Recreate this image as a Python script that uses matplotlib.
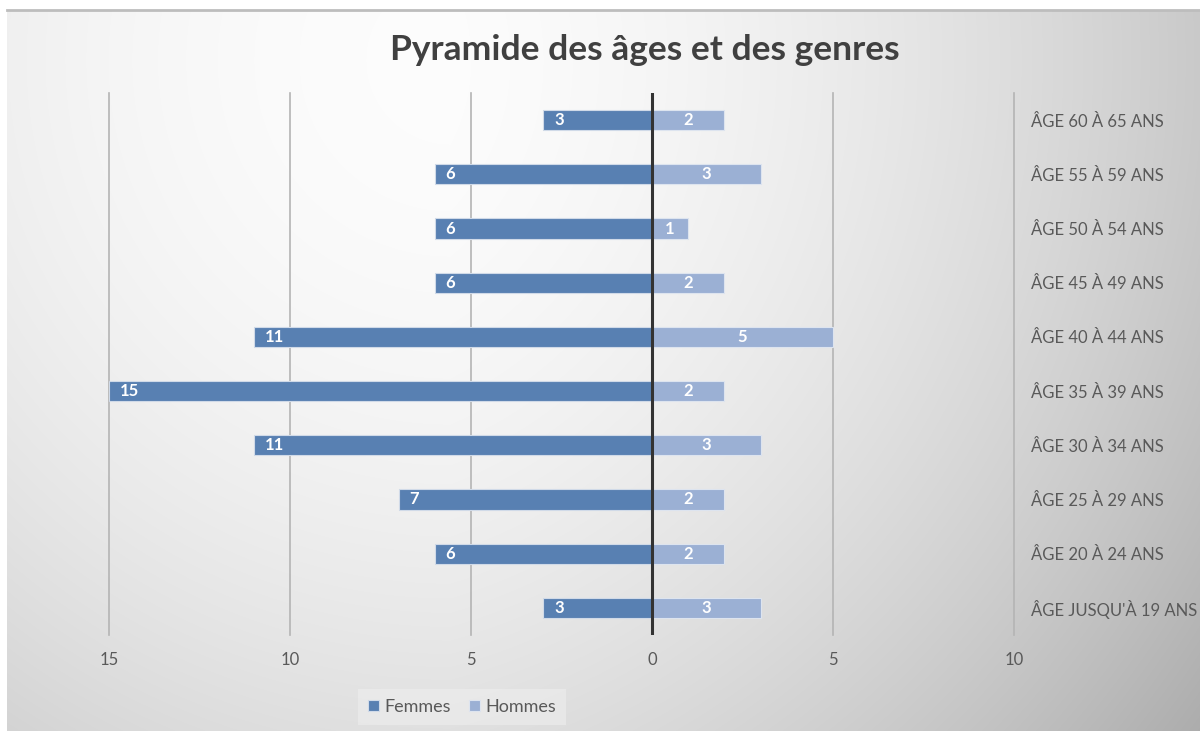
import numpy as np
import matplotlib
matplotlib.use('Agg')
import matplotlib.pyplot as plt

# Age groups, bottom to top
age_groups = ["ÂGE JUSQU'À 19 ANS", "ÂGE 20 À 24 ANS", "ÂGE 25 À 29 ANS", "ÂGE 30 À 34 ANS",
              "ÂGE 35 À 39 ANS", "ÂGE 40 À 44 ANS", "ÂGE 45 À 49 ANS", "ÂGE 50 À 54 ANS",
              "ÂGE 55 À 59 ANS", "ÂGE 60 À 65 ANS"]
femmes = [3, 6, 7, 11, 15, 11, 6, 6, 6, 3]
hommes = [3, 2, 2, 3, 2, 5, 2, 1, 3, 2]
x_ticks = [-15, -10, -5, 0, 5, 10]

plt.rcParams['font.family'] = ['Lato', 'DejaVu Sans']

fig = plt.figure(figsize=(12, 7.31), dpi=100)
fig.patch.set_facecolor('white')

# Gradient background (chart area of the screenshot)
bg = fig.add_axes([7 / 1200, 0, 1 - 7 / 1200, (731 - 11) / 731], zorder=-10)
W, H = 1193, 720
xx, yy = np.meshgrid(np.arange(W) + 7, np.arange(H) + 11)
r2 = (xx - 450.0) ** 2 + (yy - 60.0) ** 2
v = 0.99 - 2.5e-7 * r2 - 0.06 * np.clip((xx - 450) / 750, 0, None)
v = np.clip(v, 0, 1)
bg.imshow(np.dstack([v, v, v]), aspect='auto', extent=[0, 1, 1, 0], interpolation='bilinear')
bg.set_xlim(0, 1)
bg.set_ylim(1, 0)
bg.axis('off')
fig.add_artist(plt.Line2D([7 / 1200, 1], [1 - 10 / 731] * 2, color='#bdbdbd', lw=2))

ax = fig.add_axes([109 / 1200, 96 / 731, (1014 - 109) / 1200, (635 - 93) / 731])
ax.set_facecolor('none')

y = np.arange(len(age_groups))
c_f = '#5880B2'
c_h = '#9BB0D4'
bh = 0.37
ax.barh(y, [-f for f in femmes], height=bh, color=c_f, edgecolor='#d0dae8', linewidth=0.8,
        label='Femmes', zorder=3)
ax.barh(y, hommes, height=bh, color=c_h, edgecolor='#dde4ef', linewidth=0.8,
        label='Hommes', zorder=3)

for i in range(len(y)):
    ax.text(-femmes[i] + 0.3, y[i], str(femmes[i]), ha='left', va='center',
            color='white', fontsize=12, fontweight='bold', zorder=5)
    ax.text(hommes[i] / 2, y[i], str(hommes[i]), ha='center', va='center',
            color='white', fontsize=12, fontweight='bold', zorder=5)

ax.set_xlim(-15, 10)
ax.set_ylim(-0.5, len(y) - 0.5)
for t in x_ticks:
    if t != 0:
        ax.axvline(t, color='#b4b4b4', lw=1.2, zorder=1, clip_on=False)
ax.axvline(0, color='#333333', lw=2.2, zorder=4)

ax.set_xticks(x_ticks)
ax.set_xticklabels([str(abs(t)) for t in x_ticks], fontsize=12, color='#595959')
ax.tick_params(axis='x', length=0, pad=12)
ax.set_yticks(y)
ax.set_yticklabels(age_groups, fontsize=12, color='#595959')
ax.yaxis.tick_right()
ax.tick_params(axis='y', length=0, pad=12)
for s in ax.spines.values():
    s.set_visible(False)

fig.text(0.5375, 1 - 50 / 731, 'Pyramide des âges et des genres', ha='center', va='center',
         fontsize=25.5, fontweight='bold', color='#404040')

leg = fig.legend(loc='center', bbox_to_anchor=(462 / 1200, 1 - 707 / 731), ncol=2,
                 frameon=True, fontsize=13, handlelength=0.6, handleheight=0.6,
                 handletextpad=0.3, columnspacing=1.0, borderpad=0.55)
leg.get_frame().set_facecolor('#eeeeee')
leg.get_frame().set_alpha(0.6)
leg.get_frame().set_edgecolor('none')
leg.get_frame().set_boxstyle('square', pad=0)
for t in leg.get_texts():
    t.set_color('#595959')

fig.savefig('out.png', dpi=100)
